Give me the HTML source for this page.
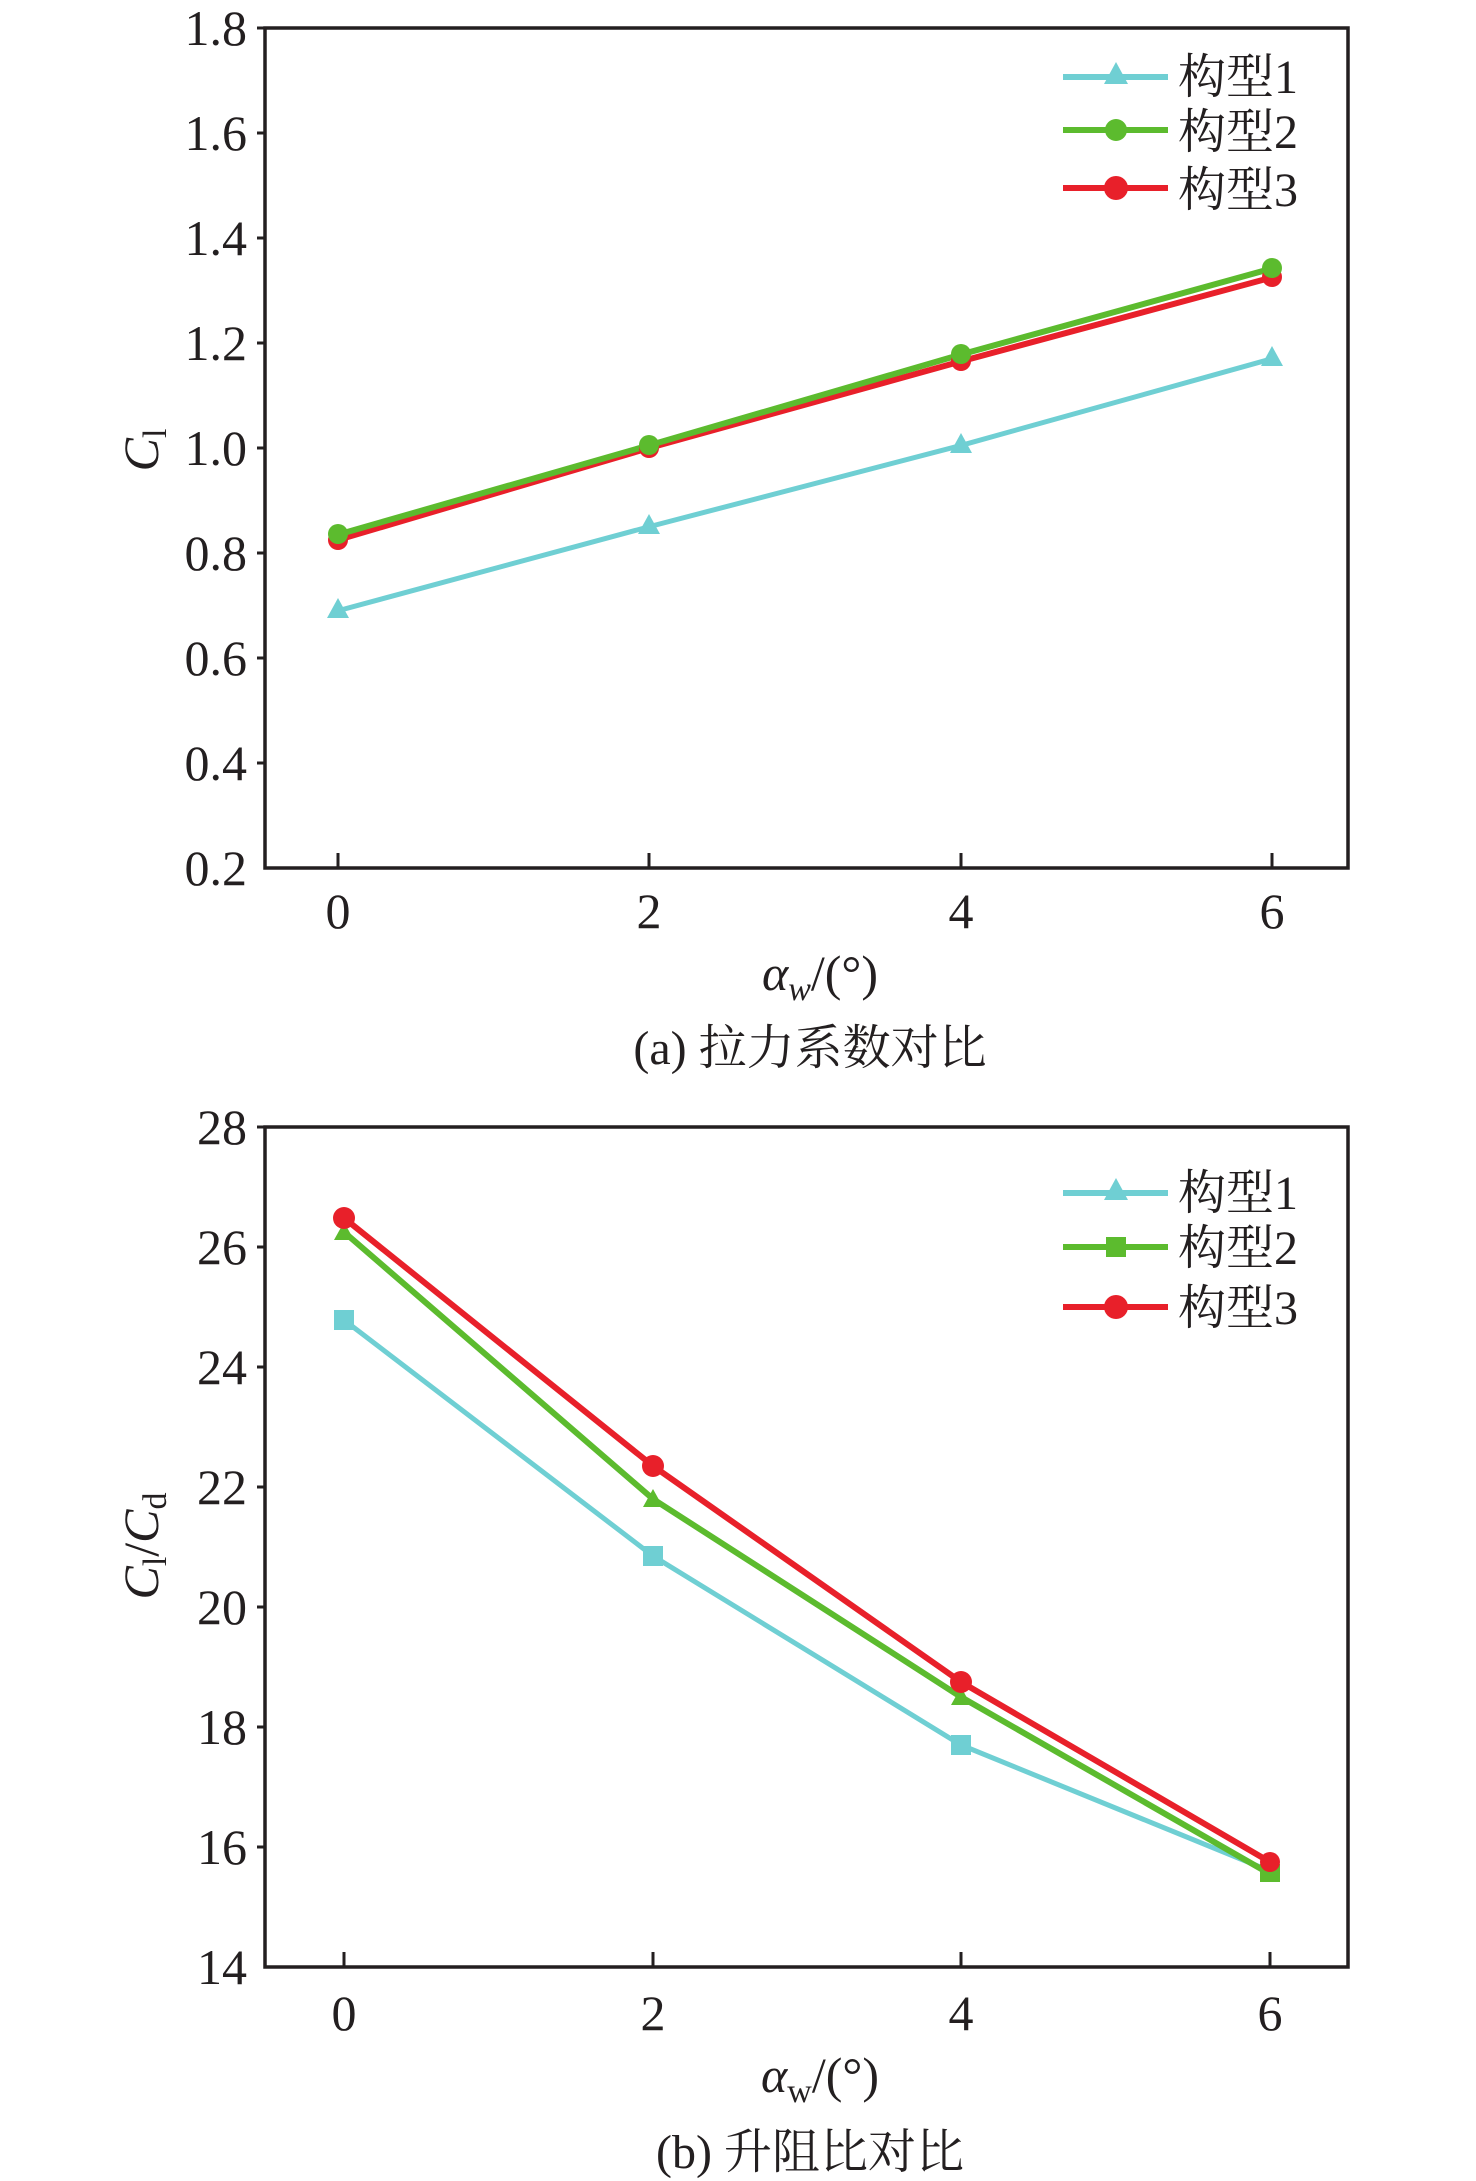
<!DOCTYPE html>
<html><head><meta charset="utf-8"><style>
html,body{margin:0;padding:0;background:#fff}
svg{display:block}
text{font-family:"Liberation Serif","Times New Roman","Noto Serif CJK SC",serif;fill:#231f20}
.cjk{font-family:"Noto Serif CJK SC","Liberation Serif",serif}
</style></head><body>
<svg width="1476" height="2181" viewBox="0 0 1476 2181" xmlns="http://www.w3.org/2000/svg">
<!-- ===== Plot A ===== -->
<g>
<rect x="265" y="28" width="1083" height="840" fill="none" stroke="#231f20" stroke-width="3.5"/>
<g stroke="#231f20" stroke-width="3">
<line x1="257" y1="28" x2="265" y2="28"/><line x1="257" y1="133" x2="265" y2="133"/>
<line x1="257" y1="238" x2="265" y2="238"/><line x1="257" y1="343" x2="265" y2="343"/>
<line x1="257" y1="448" x2="265" y2="448"/><line x1="257" y1="553" x2="265" y2="553"/>
<line x1="257" y1="658" x2="265" y2="658"/><line x1="257" y1="763" x2="265" y2="763"/>
<line x1="338" y1="868" x2="338" y2="853"/><line x1="649" y1="868" x2="649" y2="853"/>
<line x1="961" y1="868" x2="961" y2="853"/><line x1="1272" y1="868" x2="1272" y2="853"/>
</g>
<g font-size="50" text-anchor="end">
<text x="247" y="45">1.8</text><text x="247" y="150">1.6</text><text x="247" y="255">1.4</text>
<text x="247" y="360">1.2</text><text x="247" y="465">1.0</text><text x="247" y="570">0.8</text>
<text x="247" y="675">0.6</text><text x="247" y="780">0.4</text><text x="247" y="885">0.2</text>
</g>
<g font-size="50" text-anchor="middle">
<text x="338" y="928">0</text><text x="649" y="928">2</text><text x="961" y="928">4</text><text x="1272" y="928">6</text>
</g>
<text x="820" y="990" font-size="50" text-anchor="middle"><tspan font-style="italic">α</tspan><tspan font-style="italic" font-size="34" dy="10">w</tspan><tspan dy="-10">/(°)</tspan></text>
<text x="810" y="1064" font-size="48" text-anchor="middle">(a) <tspan class="cjk">拉力系数对比</tspan></text>
<text transform="translate(158,450) rotate(-90)" font-size="50" text-anchor="middle"><tspan font-style="italic">C</tspan><tspan font-size="34" dy="8">l</tspan></text>
<polyline points="338,610.75 649,526.75 961,445.4 1272,358.75" fill="none" stroke="#6fcfd3" stroke-width="5"/>
<polyline points="338,539.9 649,448 961,361.4 1272,277.4" fill="none" stroke="#e8202a" stroke-width="6"/>
<polyline points="338,534.6 649,445.4 961,354.5 1272,268.5" fill="none" stroke="#5cbb2e" stroke-width="6"/>
<g fill="#6fcfd3">
<polygon points="338,598 327,618 349,618"/><polygon points="649,514 638,534 660,534"/>
<polygon points="961,433 950,453 972,453"/><polygon points="1272,346 1261,366 1283,366"/>
</g>
<g fill="#e8202a">
<circle cx="338" cy="540" r="10"/><circle cx="649" cy="448" r="10"/><circle cx="961" cy="361" r="10"/><circle cx="1272" cy="277" r="10"/>
</g>
<g fill="#5cbb2e">
<circle cx="338" cy="534" r="10"/><circle cx="649" cy="445" r="10"/><circle cx="961" cy="354" r="10"/><circle cx="1272" cy="268" r="10"/>
</g>
<line x1="1063" y1="77" x2="1168" y2="77" stroke="#6fcfd3" stroke-width="6"/><polygon points="1116,62 1104,84 1128,84" fill="#6fcfd3"/>
<line x1="1063" y1="130" x2="1168" y2="130" stroke="#5cbb2e" stroke-width="6"/><circle cx="1116" cy="130" r="11" fill="#5cbb2e"/>
<line x1="1063" y1="188" x2="1168" y2="188" stroke="#e8202a" stroke-width="6"/><circle cx="1116" cy="188" r="12" fill="#e8202a"/>
<g font-size="48"><text x="1178" y="93"><tspan class="cjk">构型</tspan>1</text><text x="1178" y="148"><tspan class="cjk">构型</tspan>2</text><text x="1178" y="206"><tspan class="cjk">构型</tspan>3</text></g>
</g>
<!-- ===== Plot B ===== -->
<g>
<rect x="265" y="1127" width="1083" height="840" fill="none" stroke="#231f20" stroke-width="3.5"/>
<g stroke="#231f20" stroke-width="3">
<line x1="257" y1="1127" x2="265" y2="1127"/><line x1="257" y1="1247" x2="265" y2="1247"/>
<line x1="257" y1="1367" x2="265" y2="1367"/><line x1="257" y1="1487" x2="265" y2="1487"/>
<line x1="257" y1="1607" x2="265" y2="1607"/><line x1="257" y1="1727" x2="265" y2="1727"/>
<line x1="257" y1="1847" x2="265" y2="1847"/>
<line x1="344" y1="1967" x2="344" y2="1952"/><line x1="653" y1="1967" x2="653" y2="1952"/>
<line x1="961" y1="1967" x2="961" y2="1952"/><line x1="1270" y1="1967" x2="1270" y2="1952"/>
</g>
<g font-size="50" text-anchor="end">
<text x="247" y="1144">28</text><text x="247" y="1264">26</text><text x="247" y="1384">24</text>
<text x="247" y="1504">22</text><text x="247" y="1624">20</text><text x="247" y="1744">18</text>
<text x="247" y="1864">16</text><text x="247" y="1984">14</text>
</g>
<g font-size="50" text-anchor="middle">
<text x="344" y="2030">0</text><text x="653" y="2030">2</text><text x="961" y="2030">4</text><text x="1270" y="2030">6</text>
</g>
<text x="820" y="2092" font-size="50" text-anchor="middle"><tspan font-style="italic">α</tspan><tspan font-size="34" dy="10">w</tspan><tspan dy="-10">/(°)</tspan></text>
<text x="810" y="2168" font-size="48" text-anchor="middle">(b) <tspan class="cjk">升阻比对比</tspan></text>
<text transform="translate(158,1546) rotate(-90)" font-size="50" text-anchor="middle"><tspan font-style="italic">C</tspan><tspan font-size="34" dy="8">l</tspan><tspan dy="-8">/</tspan><tspan font-style="italic">C</tspan><tspan font-size="34" dy="8">d</tspan></text>
<polyline points="344,1320 653,1556 961,1745 1270,1871" fill="none" stroke="#6fcfd3" stroke-width="5"/>
<polyline points="344,1232 653,1499 961,1697 1270,1874" fill="none" stroke="#5cbb2e" stroke-width="6"/>
<polyline points="344,1218 653,1466 961,1682 1270,1862" fill="none" stroke="#e8202a" stroke-width="6"/>
<g fill="#6fcfd3">
<rect x="334" y="1310" width="20" height="20"/><rect x="643" y="1546" width="20" height="20"/>
<rect x="951" y="1735" width="20" height="20"/>
</g>
<g fill="#5cbb2e">
<polygon points="344,1222 334,1240 354,1240"/><polygon points="653,1489 643,1507 663,1507"/>
<polygon points="961,1687 951,1705 971,1705"/><rect x="1260" y="1864" width="20" height="18"/>
</g>
<g fill="#e8202a">
<circle cx="344" cy="1218" r="11"/><circle cx="653" cy="1466" r="11"/><circle cx="961" cy="1682" r="11"/><circle cx="1270" cy="1862" r="10"/>
</g>
<line x1="1063" y1="1193" x2="1168" y2="1193" stroke="#6fcfd3" stroke-width="6"/><polygon points="1116,1178 1104,1200 1128,1200" fill="#6fcfd3"/>
<line x1="1063" y1="1247" x2="1168" y2="1247" stroke="#5cbb2e" stroke-width="6"/><rect x="1106" y="1237" width="20" height="20" fill="#5cbb2e"/>
<line x1="1063" y1="1307" x2="1168" y2="1307" stroke="#e8202a" stroke-width="6"/><circle cx="1116" cy="1307" r="12" fill="#e8202a"/>
<g font-size="48"><text x="1178" y="1209"><tspan class="cjk">构型</tspan>1</text><text x="1178" y="1264"><tspan class="cjk">构型</tspan>2</text><text x="1178" y="1324"><tspan class="cjk">构型</tspan>3</text></g>
</g>
</svg>
</body></html>
